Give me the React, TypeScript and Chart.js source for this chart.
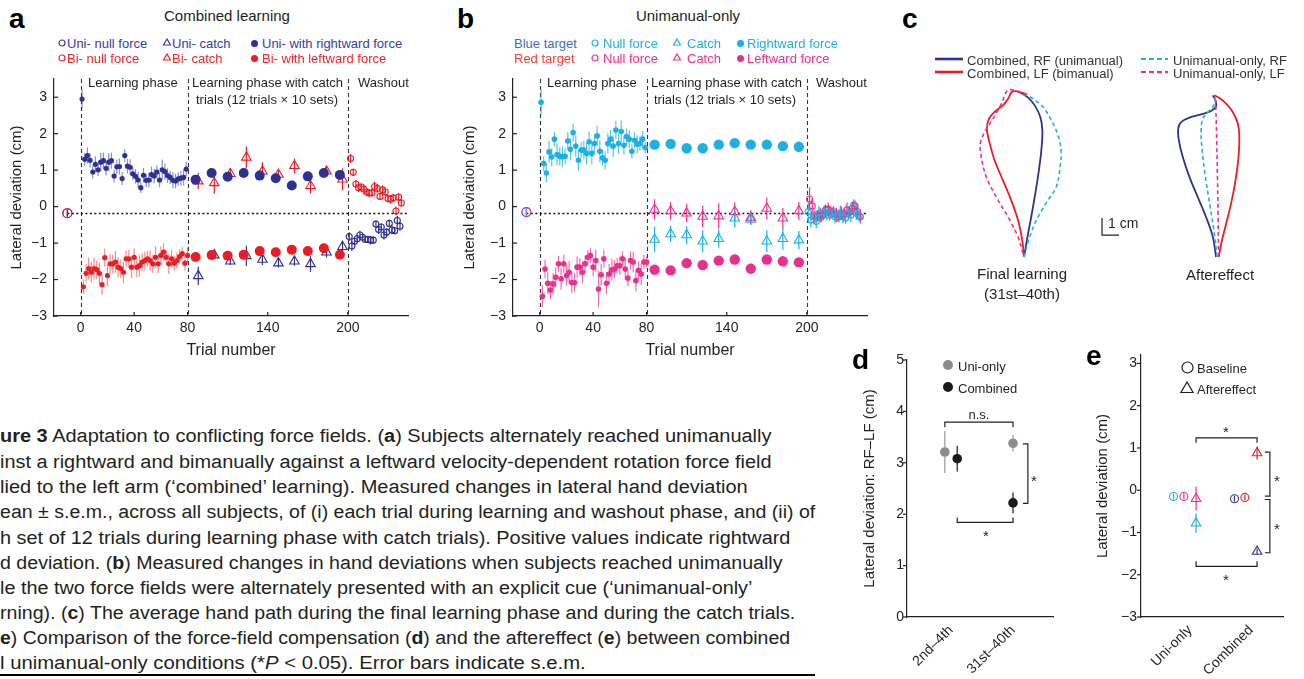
import React, { useEffect, useLayoutEffect, useRef, useState } from "react";
import { Chart, registerables } from "chart.js";
Chart.register(...registerables);

const FONT = '"Liberation Sans", Arial, Helvetica, sans-serif';
const INK = "#231f20";
const BLUE = "#2e3192";
const RED = "#ed1c24";
const CYAN = "#1cb0e4";
const MAGENTA = "#ec2f8d";
const GRAY = "#8c8c8c";
const BLACK = "#1a1a1a";
const BLUE_ERR = "rgba(60,64,170,0.6)";
const RED_ERR = "rgba(240,60,60,0.6)";
const CYAN_ERR = "rgba(30,176,228,0.75)";
const MAG_ERR = "rgba(236,47,141,0.7)";

Chart.defaults.font.family = FONT;
Chart.defaults.color = INK;

// ---------------- data: trial positions ----------------
const TRIALS_ODD = [1, 3, 5, 7, 9, 11, 13, 15, 17, 19, 21, 23, 25, 27, 29, 31, 33, 35, 37, 39, 41, 43, 45, 47, 49, 51, 53, 55, 57, 59, 61, 63, 65, 67, 69, 71, 73, 75, 77, 79];
const TRIALS_EVEN = [2, 4, 6, 8, 10, 12, 14, 16, 18, 20, 22, 24, 26, 28, 30, 32, 34, 36, 38, 40, 42, 44, 46, 48, 50, 52, 54, 56, 58, 60, 62, 64, 66, 68, 70, 72, 74, 76, 78, 80];
const CATCH_X = [86, 98, 110, 122, 134, 146, 158, 170, 182, 194];
const CATCH_X_SHIFT = [88, 100, 112, 124, 136, 148, 160, 172, 184, 196];
const WASH_ODD = [201, 203, 205, 207, 209, 211, 213, 215, 217, 219, 221, 223, 225, 227, 229, 231, 233, 235, 237, 239];
const WASH_EVEN = [202, 204, 206, 208, 210, 212, 214, 216, 218, 220, 222, 224, 226, 228, 230, 232, 234, 236, 238, 240];
const BASE_X = [-10];
const TRIAL_TICKS = [0, 40, 80, 140, 200];
const DEV_TICKS = [-3, -2, -1, 0, 1, 2, 3];
const PHASES = [0, 80, 200];

// ---------------- panel a: combined learning ----------------
const A_BASE_UNI = [-0.18];
const A_BASE_BI = [-0.18];
const A_BASE_ERR = [0.1];
const A_REF = -0.18;
const A_UNI_LEARN = [2.95, 1.3, 1.4, 1.27, 0.95, 1.16, 1.01, 1.22, 1.26, 1.05, 1.22, 1.26, 0.84, 1.09, 1.1, 0.77, 1.4, 1.11, 1.08, 0.9, 0.83, 0.73, 0.52, 0.86, 0.72, 0.73, 0.88, 0.84, 0.95, 0.73, 1.01, 0.96, 0.85, 0.8, 0.72, 0.7, 0.76, 0.78, 0.8, 1.03];
const A_UNI_LEARN_ERR = [0.25, 0.18, 0.22, 0.2, 0.18, 0.22, 0.18, 0.25, 0.22, 0.2, 0.25, 0.22, 0.18, 0.2, 0.22, 0.18, 0.18, 0.2, 0.22, 0.18, 0.2, 0.22, 0.15, 0.2, 0.18, 0.2, 0.22, 0.2, 0.18, 0.2, 0.28, 0.22, 0.2, 0.18, 0.22, 0.2, 0.18, 0.2, 0.22, 0.2];
const A_BI_LEARN = [-2.2, -1.83, -1.7, -1.8, -1.7, -1.73, -1.83, -2.14, -1.4, -1.89, -1.57, -1.57, -1.52, -1.66, -1.7, -1.8, -1.43, -1.43, -1.66, -1.39, -1.66, -1.62, -1.52, -1.48, -1.43, -1.48, -1.57, -1.39, -1.57, -1.34, -1.25, -1.39, -1.57, -1.43, -1.55, -1.48, -1.37, -1.29, -1.55, -1.34];
const A_BI_LEARN_ERR = [0.2, 0.25, 0.3, 0.28, 0.3, 0.25, 0.3, 0.28, 0.25, 0.3, 0.28, 0.25, 0.3, 0.28, 0.25, 0.3, 0.22, 0.25, 0.3, 0.25, 0.28, 0.3, 0.25, 0.25, 0.22, 0.28, 0.25, 0.3, 0.25, 0.25, 0.25, 0.22, 0.28, 0.25, 0.2, 0.22, 0.2, 0.18, 0.2, 0.22];
const A_UNI_FORCE = [0.74, 0.92, 0.82, 0.92, 0.85, 0.78, 0.58, 0.83, 0.92, 0.87];
const A_UNI_FORCE_ERR = [0.07, 0.06, 0.07, 0.06, 0.07, 0.06, 0.08, 0.06, 0.07, 0.08];
const A_BI_FORCE = [-1.38, -1.33, -1.35, -1.32, -1.22, -1.25, -1.18, -1.22, -1.14, -1.32];
const A_BI_FORCE_ERR = [0.07, 0.06, 0.07, 0.06, 0.07, 0.06, 0.07, 0.06, 0.07, 0.1];
const A_BI_CATCH = [0.7, 0.65, 0.9, 1.35, 0.97, 0.88, 1.12, 0.57, 0.97, 0.75];
const A_BI_CATCH_ERR = [0.22, 0.3, 0.15, 0.3, 0.25, 0.12, 0.2, 0.22, 0.12, 0.3];
const A_UNI_CATCH = [-1.9, -1.33, -1.5, -1.35, -1.45, -1.55, -1.5, -1.57, -1.25, -1.1];
const A_UNI_CATCH_ERR = [0.25, 0.08, 0.1, 0.28, 0.15, 0.12, 0.12, 0.22, 0.15, 0.12];
const A_BI_WASH = [1.32, 0.94, 0.62, 0.52, 0.54, 0.48, 0.4, 0.37, 0.38, 0.55, 0.5, 0.28, 0.46, 0.4, 0.22, 0.2, 0.24, -0.12, 0.26, 0.1];
const A_BI_WASH_ERR = [0.12, 0.1, 0.1, 0.12, 0.1, 0.12, 0.1, 0.1, 0.1, 0.14, 0.12, 0.1, 0.12, 0.1, 0.1, 0.12, 0.1, 0.12, 0.1, 0.1];
const A_UNI_WASH = [-0.82, -1.08, -0.95, -0.88, -0.78, -0.84, -0.9, -0.9, -0.92, -0.92, -0.48, -0.63, -0.56, -0.78, -0.7, -0.46, -0.64, -0.66, -0.38, -0.54];
const A_UNI_WASH_ERR = [0.12, 0.14, 0.1, 0.1, 0.12, 0.1, 0.1, 0.1, 0.12, 0.1, 0.1, 0.12, 0.1, 0.12, 0.1, 0.1, 0.12, 0.1, 0.12, 0.12];

// ---------------- panel b: unimanual-only ----------------
const B_BASE_RF = [-0.15];
const B_BASE_LF = [-0.15];
const B_BASE_ERR = [0.1];
const B_REF = -0.17;
const B_RF_LEARN = [2.86, 1.18, 0.92, 1.5, 1.36, 1.85, 1.43, 1.38, 1.37, 1.38, 1.8, 1.57, 2.03, 1.66, 1.27, 1.55, 1.55, 1.46, 1.78, 1.46, 1.73, 1.94, 1.52, 1.34, 1.27, 1.73, 1.85, 1.66, 2.1, 1.73, 2.06, 1.68, 1.92, 1.85, 1.52, 1.82, 1.71, 1.73, 1.85, 1.62];
const B_RF_LEARN_ERR = [0.35, 0.2, 0.25, 0.3, 0.25, 0.2, 0.3, 0.25, 0.28, 0.22, 0.25, 0.3, 0.25, 0.3, 0.28, 0.22, 0.25, 0.3, 0.28, 0.3, 0.25, 0.28, 0.3, 0.22, 0.25, 0.28, 0.25, 0.3, 0.25, 0.28, 0.3, 0.25, 0.22, 0.25, 0.2, 0.22, 0.25, 0.2, 0.22, 0.15];
const B_LF_LEARN = [-2.46, -1.71, -2.1, -2.29, -2.12, -1.94, -1.57, -1.98, -1.57, -1.89, -1.8, -2.08, -2.08, -1.66, -1.66, -1.8, -1.57, -1.39, -1.34, -1.66, -1.48, -2.26, -1.87, -1.43, -2.1, -1.85, -1.73, -1.71, -1.62, -1.62, -1.43, -1.71, -1.96, -1.48, -1.52, -2.03, -1.75, -1.85, -1.52, -1.52];
const B_LF_LEARN_ERR = [0.3, 0.25, 0.3, 0.25, 0.3, 0.28, 0.22, 0.3, 0.25, 0.28, 0.3, 0.28, 0.25, 0.3, 0.25, 0.3, 0.22, 0.2, 0.2, 0.25, 0.3, 0.5, 0.3, 0.25, 0.3, 0.28, 0.3, 0.25, 0.22, 0.25, 0.2, 0.3, 0.22, 0.25, 0.28, 0.3, 0.25, 0.3, 0.2, 0.15];
const B_RF_FORCE = [1.7, 1.72, 1.6, 1.6, 1.7, 1.74, 1.7, 1.7, 1.66, 1.64];
const B_RF_FORCE_ERR = [0.1, 0.08, 0.1, 0.1, 0.1, 0.1, 0.1, 0.1, 0.1, 0.1];
const B_LF_FORCE = [-1.73, -1.75, -1.55, -1.6, -1.48, -1.45, -1.7, -1.45, -1.5, -1.53];
const B_LF_FORCE_ERR = [0.12, 0.12, 0.1, 0.12, 0.1, 0.1, 0.14, 0.12, 0.1, 0.12];
const B_LF_CATCH = [-0.08, -0.12, -0.18, -0.27, -0.26, -0.14, -0.3, -0.05, -0.32, -0.12];
const B_LF_CATCH_ERR = [0.28, 0.25, 0.25, 0.3, 0.35, 0.25, 0.2, 0.3, 0.28, 0.25];
const B_RF_CATCH = [-0.9, -0.75, -0.78, -0.95, -0.88, -0.32, -0.35, -0.95, -0.88, -0.92];
const B_RF_CATCH_ERR = [0.35, 0.22, 0.25, 0.3, 0.25, 0.25, 0.15, 0.3, 0.3, 0.25];
const B_LF_WASH = [0.21, 0.02, -0.28, -0.26, -0.23, -0.23, -0.09, -0.07, -0.18, -0.14, -0.23, -0.28, -0.18, -0.2, -0.09, -0.14, -0.05, 0.02, -0.14, -0.28];
const B_LF_WASH_ERR = [0.32, 0.2, 0.18, 0.15, 0.2, 0.15, 0.15, 0.18, 0.15, 0.15, 0.2, 0.15, 0.18, 0.15, 0.2, 0.15, 0.18, 0.15, 0.15, 0.18];
const B_RF_WASH = [-0.14, -0.37, -0.28, -0.41, -0.18, -0.28, -0.14, -0.23, -0.18, -0.17, -0.28, -0.26, -0.17, -0.28, -0.32, -0.18, -0.23, 0.05, -0.18, -0.26];
const B_RF_WASH_ERR = [0.25, 0.2, 0.15, 0.18, 0.2, 0.15, 0.18, 0.15, 0.2, 0.15, 0.18, 0.15, 0.2, 0.18, 0.15, 0.18, 0.2, 0.15, 0.18, 0.15];

// ---------------- panel c: hand paths (cm) ----------------
const C_FINAL_RF_X = [0, 0.24, 0.53, 0.82, 1.02, 1.08, 0.96, 0.63, 0.24, -0.16, -0.35];
const C_FINAL_RF_Y = [0, 1.37, 2.94, 4.71, 6.27, 7.45, 8.24, 8.92, 9.37, 9.65, 9.71];
const C_FINAL_LF_X = [0, -0.1, -0.35, -0.75, -1.24, -1.73, -2.06, -2.18, -2.06, -1.73, -1.24, -0.94, -0.71, -0.49, -0.06, 0.18];
const C_FINAL_LF_Y = [0, 0.98, 2.16, 3.33, 4.51, 5.69, 6.86, 7.55, 8.14, 8.53, 8.92, 9.31, 9.71, 9.76, 9.65, 9.55];
const C_FINAL_URF_X = [0, 0.33, 0.82, 1.41, 1.9, 2.1, 2.18, 2.0, 1.61, 1.12, 0.53, 0.04, -0.25];
const C_FINAL_URF_Y = [0, 1.18, 2.35, 3.33, 4.12, 5.1, 6.27, 7.16, 8.04, 8.82, 9.31, 9.55, 9.61];
const C_FINAL_ULF_X = [-0.06, -0.35, -0.94, -1.63, -2.22, -2.51, -2.57, -2.31, -1.82, -1.33, -1.04, -0.88, -0.55, -0.06, 0.33];
const C_FINAL_ULF_Y = [0.2, 1.18, 2.35, 3.53, 4.71, 5.88, 6.67, 7.35, 8.14, 9.02, 9.71, 9.84, 9.8, 9.65, 9.45];
const C_AFTER_RF_X = [-0.1, -0.29, -0.69, -1.18, -1.67, -2.06, -2.29, -2.33, -2.16, -1.67, -0.98, -0.39, -0.1, -0.14, -0.29];
const C_AFTER_RF_Y = [0, 1.18, 2.35, 3.53, 4.71, 5.88, 6.86, 7.55, 7.94, 8.2, 8.39, 8.59, 8.86, 9.22, 9.51];
const C_AFTER_LF_X = [0.06, 0.2, 0.49, 0.78, 1.04, 1.22, 1.27, 1.18, 0.88, 0.49, 0.1, -0.2];
const C_AFTER_LF_Y = [0, 0.78, 1.96, 3.14, 4.51, 5.88, 7.06, 7.84, 8.53, 9.02, 9.35, 9.51];
const C_AFTER_URF_X = [-0.04, -0.2, -0.45, -0.73, -0.92, -0.98, -0.88, -0.59, -0.29, -0.14, -0.25];
const C_AFTER_URF_Y = [0, 1.37, 2.94, 4.71, 6.27, 7.45, 8.14, 8.53, 8.82, 9.22, 9.47];
const C_AFTER_ULF_X = [0.04, 0.02, -0.02, -0.06, -0.1, -0.14, -0.2];
const C_AFTER_ULF_Y = [0, 2.35, 4.71, 6.67, 8.24, 9.22, 9.47];
const C_SCALE_ORIGIN = [4.59, 1.29];
const C_SCALE_CM = 1;

// ---------------- panel d ----------------
const D_CATS = ["2nd\u20134th", "31st\u201340th"];
const D_UNI = [3.21, 3.38];
const D_UNI_ERR = [0.41, 0.16];
const D_COMB = [3.08, 2.22];
const D_COMB_ERR = [0.25, 0.2];
const D_TICKS = [0, 1, 2, 3, 4, 5];

// ---------------- panel e ----------------
const E_CATS = ["Uni-only", "Combined"];
const E_BASE_RF = [-0.15, -0.2];
const E_BASE_LF = [-0.15, -0.17];
const E_BASE_ERR = [0.07, 0.07];
const E_AFTER_RF = [-0.78, -1.45];
const E_AFTER_RF_ERR = [0.23, 0.07];
const E_AFTER_LF = [-0.2, 0.88];
const E_AFTER_LF_ERR = [0.28, 0.15];

// ---------------- layout constants ----------------
const D_OFF_UNI = [-0.1, 0];
const D_OFF_COMB = [0.1, 0];
const E_OFF_BASE_RF = -0.27;
const E_OFF_BASE_LF = -0.1;
const E_OFF_AFTER = 0.1;
const C_AFTER_OFFSET = 11.4;
const PX_PER_CM = 17;

// ---------------- helpers ----------------
const fmt = (v: number) => (v < 0 ? "\u2212" + Math.abs(v) : String(v));
const xy = (xs: number[], ys: number[]) => xs.map((x, i) => ({ x, y: ys[i] }));

function dotDS(xs: number[], ys: number[], errs: number[], color: any, r: number, errColor?: any) {
  return {
    data: xy(xs, ys), errors: errs, errorColor: errColor || color,
    pointStyle: "circle", pointRadius: r, pointBackgroundColor: color, pointBorderColor: color, pointBorderWidth: 0,
    showLine: false,
  };
}
function openDS(xs: number[], ys: number[], errs: number[], color: any, r: number, style: string, errColor?: any) {
  return {
    data: xy(xs, ys), errors: errs, errorColor: errColor || color,
    pointStyle: style, pointRadius: r, pointBackgroundColor: "rgba(255,255,255,0)", pointBorderColor: color, pointBorderWidth: 1.1,
    showLine: false,
  };
}

const errorBars = {
  id: "errorBars",
  beforeDatasetsDraw(chart: any) {
    const ctx = chart.ctx;
    const ys = chart.scales.y;
    chart.data.datasets.forEach((ds: any, di: number) => {
      if (!ds.errors) return;
      const meta = chart.getDatasetMeta(di);
      ctx.save();
      ctx.lineWidth = ds.errorWidth || 1.2;
      meta.data.forEach((el: any, i: number) => {
        const e = ds.errors[i];
        if (!e) return;
        const v = ds.data[i].y;
        ctx.strokeStyle = Array.isArray(ds.errorColor) ? ds.errorColor[i] : ds.errorColor;
        ctx.beginPath();
        ctx.moveTo(el.x, ys.getPixelForValue(v - e));
        ctx.lineTo(el.x, ys.getPixelForValue(v + e));
        ctx.stroke();
      });
      ctx.restore();
    });
  },
};

// len > 0: ticks point into the plot; len < 0: ticks point outward
function axisTicks(axes: string[], len: number) {
  return {
    id: "axisTicks",
    afterDatasetsDraw(chart: any) {
      const { ctx, chartArea } = chart;
      ctx.save();
      ctx.strokeStyle = INK;
      ctx.lineWidth = 1.2;
      axes.forEach((id) => {
        const sc = chart.scales[id];
        sc.ticks.forEach((t: any) => {
          const p = sc.getPixelForValue(t.value);
          ctx.beginPath();
          if (id === "y") {
            ctx.moveTo(chartArea.left, p);
            ctx.lineTo(chartArea.left + len, p);
          } else {
            ctx.moveTo(p, chartArea.bottom);
            ctx.lineTo(p, chartArea.bottom - len);
          }
          ctx.stroke();
        });
      });
      ctx.restore();
    },
  };
}

function guides(vlines: number[], hline: number, hFrom: number) {
  return {
    id: "guides",
    beforeDatasetsDraw(chart: any) {
      const { ctx, chartArea, scales } = chart;
      ctx.save();
      ctx.strokeStyle = "#333";
      ctx.lineWidth = 1.1;
      ctx.setLineDash([4, 3]);
      vlines.forEach((v) => {
        const px = Math.round(scales.x.getPixelForValue(v)) + 0.5;
        ctx.beginPath();
        ctx.moveTo(px, chartArea.top);
        ctx.lineTo(px, chartArea.bottom);
        ctx.stroke();
      });
      const py = Math.round(scales.y.getPixelForValue(hline)) + 0.5;
      ctx.strokeStyle = "#111";
      ctx.lineWidth = 1.3;
      ctx.setLineDash([2, 2.5]);
      ctx.beginPath();
      ctx.moveTo(scales.x.getPixelForValue(hFrom), py);
      ctx.lineTo(chartArea.right, py);
      ctx.stroke();
      ctx.restore();
    },
  };
}

type Br = { kind: "h" | "v"; a: number; b: number; at: number; dir: "up" | "down" | "left" };
function brackets(items: Br[]) {
  return {
    id: "brackets",
    afterDatasetsDraw(chart: any) {
      const { ctx, scales } = chart;
      const L = 5;
      ctx.save();
      ctx.strokeStyle = INK;
      ctx.lineWidth = 1.2;
      items.forEach((b) => {
        ctx.beginPath();
        if (b.kind === "h") {
          const x1 = scales.x.getPixelForValue(b.a);
          const x2 = scales.x.getPixelForValue(b.b);
          const y = scales.y.getPixelForValue(b.at);
          const d = b.dir === "down" ? L : -L;
          ctx.moveTo(x1, y + d);
          ctx.lineTo(x1, y);
          ctx.lineTo(x2, y);
          ctx.lineTo(x2, y + d);
        } else {
          const x = scales.x.getPixelForValue(b.at);
          const y1 = scales.y.getPixelForValue(b.a);
          const y2 = scales.y.getPixelForValue(b.b);
          ctx.moveTo(x - L, y1);
          ctx.lineTo(x, y1);
          ctx.lineTo(x, y2);
          ctx.lineTo(x - L, y2);
        }
        ctx.stroke();
      });
      ctx.restore();
    },
  };
}

function yScale(min: number, max: number, ticks: number[], width: number, title: string, titlePad: number, tickPad: number) {
  return {
    type: "linear", position: "left", min, max,
    afterBuildTicks: (s: any) => { s.ticks = ticks.map((v) => ({ value: v })); },
    afterFit: (s: any) => { s.width = width; },
    grid: { display: false, drawTicks: false },
    border: { display: true, color: INK, width: 1.2 },
    ticks: { font: { size: 14, family: FONT }, color: INK, padding: tickPad, autoSkip: false, callback: (v: any) => fmt(Number(v)) },
    title: { display: true, text: title, font: { size: 15, family: FONT }, color: INK, padding: { top: titlePad, bottom: 0 } },
  };
}

function trialScale() {
  return {
    type: "linear", position: "bottom", min: -20, max: 245,
    afterBuildTicks: (s: any) => { s.ticks = TRIAL_TICKS.map((v) => ({ value: v })); },
    afterFit: (s: any) => { s.height = 46; },
    grid: { display: false, drawTicks: false },
    border: { display: true, color: INK, width: 1.2 },
    ticks: { font: { size: 14, family: FONT }, color: INK, padding: 4, autoSkip: false, maxRotation: 0, minRotation: 0, callback: (v: any) => fmt(Number(v)) },
    title: { display: true, text: "Trial number", font: { size: 16, family: FONT }, color: INK, padding: { top: 0, bottom: 2 } },
  };
}

function catScale(min: number, max: number, cats: string[]) {
  return {
    type: "linear", position: "bottom", min, max,
    afterBuildTicks: (s: any) => { s.ticks = cats.map((_, i) => ({ value: i + 1 })); },
    afterFit: (s: any) => { s.height = 62; },
    grid: { display: false, drawTicks: false },
    border: { display: true, color: INK, width: 1.2 },
    ticks: { font: { size: 14, family: FONT }, color: INK, padding: 5, autoSkip: false, maxRotation: 45, minRotation: 45, callback: (v: any) => cats[Math.round(Number(v)) - 1] },
  };
}

function baseConfig(datasets: any[], scales: any, plugins: any[], padding: any) {
  return {
    type: "scatter",
    data: { datasets },
    options: {
      animation: false, responsive: false, maintainAspectRatio: false, devicePixelRatio: 1, events: [],
      layout: { padding },
      plugins: { legend: { display: false }, tooltip: { enabled: false } },
      scales,
    },
    plugins,
  };
}

function makeA() {
  const ds = [
    openDS(BASE_X, A_BASE_BI, A_BASE_ERR, RED, 4.5, "circle"),
    openDS(BASE_X, A_BASE_UNI, A_BASE_ERR, BLUE, 4.5, "circle"),
    dotDS(TRIALS_ODD, A_UNI_LEARN, A_UNI_LEARN_ERR, BLUE, 2.6, BLUE_ERR),
    dotDS(TRIALS_EVEN, A_BI_LEARN, A_BI_LEARN_ERR, RED, 2.6, RED_ERR),
    dotDS(CATCH_X, A_UNI_FORCE, A_UNI_FORCE_ERR, BLUE, 5),
    dotDS(CATCH_X, A_BI_FORCE, A_BI_FORCE_ERR, RED, 5),
    openDS(CATCH_X_SHIFT, A_BI_CATCH, A_BI_CATCH_ERR, RED, 5.5, "triangle"),
    openDS(CATCH_X_SHIFT, A_UNI_CATCH, A_UNI_CATCH_ERR, BLUE, 5.5, "triangle"),
    openDS(WASH_EVEN, A_BI_WASH, A_BI_WASH_ERR, RED, 3, "circle"),
    openDS(WASH_ODD, A_UNI_WASH, A_UNI_WASH_ERR, BLUE, 3, "circle"),
  ];
  return baseConfig(
    ds,
    { x: trialScale(), y: yScale(-3, 3.5, DEV_TICKS, 54, "Lateral deviation (cm)", 8, 7) },
    [guides(PHASES, A_REF, BASE_X[0]), errorBars, axisTicks(["x", "y"], 4)],
    { left: 0, top: 19, right: 12, bottom: 0 }
  );
}

function makeB() {
  const ds = [
    openDS(BASE_X, B_BASE_LF, B_BASE_ERR, MAGENTA, 4.5, "circle"),
    openDS(BASE_X, B_BASE_RF, B_BASE_ERR, CYAN, 4.5, "circle"),
    dotDS(TRIALS_ODD, B_RF_LEARN, B_RF_LEARN_ERR, CYAN, 2.8, CYAN_ERR),
    dotDS(TRIALS_EVEN, B_LF_LEARN, B_LF_LEARN_ERR, MAGENTA, 2.8, MAG_ERR),
    dotDS(CATCH_X, B_RF_FORCE, B_RF_FORCE_ERR, CYAN, 5.2),
    dotDS(CATCH_X, B_LF_FORCE, B_LF_FORCE_ERR, MAGENTA, 5.2),
    openDS(CATCH_X, B_LF_CATCH, B_LF_CATCH_ERR, MAGENTA, 5.5, "triangle"),
    openDS(CATCH_X, B_RF_CATCH, B_RF_CATCH_ERR, CYAN, 5.5, "triangle"),
    openDS(WASH_ODD, B_RF_WASH, B_RF_WASH_ERR, CYAN, 3, "circle"),
    openDS(WASH_EVEN, B_LF_WASH, B_LF_WASH_ERR, MAGENTA, 3, "circle"),
  ];
  return baseConfig(
    ds,
    { x: trialScale(), y: yScale(-3, 3.5, DEV_TICKS, 73, "Lateral deviation (cm)", 21, 7) },
    [guides(PHASES, B_REF, BASE_X[0]), errorBars, axisTicks(["x", "y"], 4)],
    { left: 0, top: 19, right: 13, bottom: 0 }
  );
}

function pathDS(xs: number[], ys: number[], color: string, dashed: boolean, dx = 0) {
  return {
    data: xs.map((x, i) => ({ x: x + dx, y: ys[i] })),
    showLine: true, pointRadius: 0, borderColor: color, borderWidth: dashed ? 1.6 : 1.8,
    borderDash: dashed ? [4, 3] : [], tension: 0.35, fill: false,
  };
}

function makeC() {
  const W = 400, H = 190;
  const xmin = -(1024 - 900) / PX_PER_CM;
  const ymin = -(270 - 257) / PX_PER_CM;
  const [sx, sy] = C_SCALE_ORIGIN;
  const ds = [
    pathDS(C_FINAL_ULF_X, C_FINAL_ULF_Y, MAGENTA, true),
    pathDS(C_FINAL_URF_X, C_FINAL_URF_Y, CYAN, true),
    pathDS(C_FINAL_LF_X, C_FINAL_LF_Y, RED, false),
    pathDS(C_FINAL_RF_X, C_FINAL_RF_Y, BLUE, false),
    pathDS(C_AFTER_URF_X, C_AFTER_URF_Y, CYAN, true, C_AFTER_OFFSET),
    pathDS(C_AFTER_ULF_X, C_AFTER_ULF_Y, MAGENTA, true, C_AFTER_OFFSET),
    pathDS(C_AFTER_LF_X, C_AFTER_LF_Y, RED, false, C_AFTER_OFFSET),
    pathDS(C_AFTER_RF_X, C_AFTER_RF_Y, BLUE, false, C_AFTER_OFFSET),
    {
      data: [{ x: sx, y: sy + C_SCALE_CM }, { x: sx, y: sy }, { x: sx + C_SCALE_CM, y: sy }],
      showLine: true, pointRadius: 0, borderColor: INK, borderWidth: 1.2, tension: 0,
    },
  ];
  return baseConfig(
    ds,
    {
      x: { type: "linear", display: false, min: xmin, max: xmin + W / PX_PER_CM },
      y: { type: "linear", display: false, min: ymin, max: ymin + H / PX_PER_CM },
    },
    [],
    0
  );
}

function makeD() {
  const ds = [
    dotDS(D_UNI.map((_, i) => i + 1 + D_OFF_UNI[i]), D_UNI, D_UNI_ERR, GRAY, 4.8, "#9a9a9a"),
    dotDS(D_COMB.map((_, i) => i + 1 + D_OFF_COMB[i]), D_COMB, D_COMB_ERR, BLACK, 4.8),
  ];
  return baseConfig(
    ds,
    {
      x: catScale(0.29, 2.645, D_CATS),
      y: yScale(0, 5, D_TICKS, 67, "Lateral deviation: RF\u2013LF (cm)", 21, 3),
    },
    [
      errorBars,
      axisTicks(["y"], -4),
      brackets([
        { kind: "h", a: 0.9, b: 2.0, at: 3.79, dir: "down" },
        { kind: "v", a: 3.37, b: 2.21, at: 2.24, dir: "left" },
        { kind: "h", a: 1.1, b: 2.0, at: 1.84, dir: "up" },
      ]),
    ],
    { left: 0, top: 20, right: 17, bottom: 0 }
  );
}

function makeE() {
  const cx = (off: number) => E_CATS.map((_, i) => i + 1 + off);
  const ds = [
    openDS(cx(E_OFF_BASE_RF), E_BASE_RF, E_BASE_ERR, [CYAN, BLUE], 4, "circle"),
    openDS(cx(E_OFF_BASE_LF), E_BASE_LF, E_BASE_ERR, [MAGENTA, RED], 4, "circle"),
    openDS(cx(E_OFF_AFTER), E_AFTER_LF, E_AFTER_LF_ERR, [MAGENTA, RED], 5.5, "triangle"),
    openDS(cx(E_OFF_AFTER), E_AFTER_RF, E_AFTER_RF_ERR, [CYAN, BLUE], 5.5, "triangle"),
  ];
  return baseConfig(
    ds,
    {
      x: catScale(0.197, 2.525, E_CATS),
      y: yScale(-3, 3.2, DEV_TICKS, 61, "Lateral deviation (cm)", 14, 4),
    },
    [
      errorBars,
      axisTicks(["y"], -4),
      brackets([
        { kind: "h", a: 1.1, b: 2.1, at: 1.24, dir: "down" },
        { kind: "v", a: 0.9, b: -0.14, at: 2.31, dir: "left" },
        { kind: "v", a: -0.22, b: -1.48, at: 2.31, dir: "left" },
        { kind: "h", a: 1.1, b: 2.1, at: -1.8, dir: "up" },
      ]),
    ],
    { left: 0, top: 15, right: 21, bottom: 0 }
  );
}

// ---------------- components ----------------
function ChartCanvas({ x, y, w, h, make }: any) {
  const ref = useRef<HTMLCanvasElement>(null);
  useEffect(() => {
    const chart = new Chart(ref.current as any, make());
    return () => chart.destroy();
  }, []);
  return <canvas ref={ref} width={w} height={h} style={{ position: "absolute", left: x, top: y, width: w, height: h }} />;
}

function T({ x, cy, size = 13, color = INK, anchor = "start", bold = false, children }: any) {
  const tx = anchor === "middle" ? "translateX(-50%)" : anchor === "end" ? "translateX(-100%)" : undefined;
  return (
    <div style={{ position: "absolute", left: x, top: cy - size / 2, fontSize: size, lineHeight: `${size}px`, whiteSpace: "nowrap", color, fontWeight: bold ? "bold" : "normal", transform: tx }}>
      {children}
    </div>
  );
}

function Letter({ x, baseline, ch }: any) {
  const fs = 28;
  return <div style={{ position: "absolute", left: x, top: baseline - 0.8465 * fs, fontSize: fs, lineHeight: `${fs}px`, fontWeight: "bold", color: "#000" }}>{ch}</div>;
}

function Star({ x, cy }: any) {
  const fs = 15;
  return <div style={{ position: "absolute", left: x, top: cy - 0.28 * fs, fontSize: fs, lineHeight: `${fs}px`, transform: "translateX(-50%)", color: INK }}>*</div>;
}

function Mk({ x, cy, kind, color, r = 3.5, sw = 1.2 }: any) {
  const s = Math.ceil(r * 2 + 4);
  const c = s / 2;
  return (
    <svg width={s} height={s} style={{ position: "absolute", left: x - c, top: cy - c, overflow: "visible" }}>
      {kind === "open" && <circle cx={c} cy={c} r={r} fill="none" stroke={color} strokeWidth={sw} />}
      {kind === "dot" && <circle cx={c} cy={c} r={r} fill={color} />}
      {kind === "tri" && (
        <polygon points={`${c},${c - r} ${c - r * 0.87},${c + r * 0.5} ${c + r * 0.87},${c + r * 0.5}`} fill="none" stroke={color} strokeWidth={sw} />
      )}
    </svg>
  );
}

function LegLine({ x1, x2, y, color, dashed }: any) {
  return (
    <svg width={x2 - x1} height={6} style={{ position: "absolute", left: x1, top: y - 3 }}>
      <line x1={0} y1={3} x2={x2 - x1} y2={3} stroke={color} strokeWidth={dashed ? 1.8 : 2.6} strokeDasharray={dashed ? "5 3" : undefined} />
    </svg>
  );
}

function CaptionLine({ cy, right, children }: any) {
  const ref = useRef<HTMLDivElement>(null);
  const [sx, setSx] = useState(1);
  useLayoutEffect(() => {
    const w = ref.current ? ref.current.scrollWidth : 0;
    if (w > 0) setSx(right / w);
  }, [right]);
  return (
    <div ref={ref} style={{ position: "absolute", left: 0, top: cy - 10, fontSize: 18, lineHeight: "20px", whiteSpace: "nowrap", color: INK, transform: `scaleX(${sx})`, transformOrigin: "0 0" }}>
      {children}
    </div>
  );
}

export default function App() {
  const ABLUE = "#3a3d9c";
  const ARED = "#e8262b";
  return (
    <div style={{ position: "fixed", left: 0, top: 0, width: 1304, height: 679, overflow: "hidden", background: "#fff", fontFamily: FONT, color: INK }}>
      <ChartCanvas x={0} y={60} w={420} h={302} make={makeA} />
      <ChartCanvas x={440} y={60} w={440} h={302} make={makeB} />
      <ChartCanvas x={900} y={80} w={400} h={190} make={makeC} />
      <ChartCanvas x={840} y={340} w={230} h={339} make={makeD} />
      <ChartCanvas x={1080} y={340} w={224} h={339} make={makeE} />

      {/* panel letters */}
      <Letter x={9} baseline={29} ch="a" />
      <Letter x={457} baseline={29} ch="b" />
      <Letter x={902} baseline={29} ch="c" />
      <Letter x={852} baseline={370} ch="d" />
      <Letter x={1086} baseline={366} ch="e" />

      {/* panel a header */}
      <T x={227} cy={15} size={15} anchor="middle">Combined learning</T>
      <Mk x={61.5} cy={43} kind="open" color={ABLUE} r={3} />
      <T x={67} cy={43} color={ABLUE}>Uni- null force</T>
      <Mk x={167} cy={43} kind="tri" color={ABLUE} r={4} />
      <T x={172} cy={43} color={ABLUE}>Uni- catch</T>
      <Mk x={254} cy={43} kind="dot" color={BLUE} r={3.5} />
      <T x={262} cy={43} color={ABLUE}>Uni- with rightward force</T>
      <Mk x={61.5} cy={58} kind="open" color={ARED} r={3} />
      <T x={67} cy={58} color={ARED}>Bi- null force</T>
      <Mk x={167} cy={58} kind="tri" color={ARED} r={4} />
      <T x={172} cy={58} color={ARED}>Bi- catch</T>
      <Mk x={254} cy={58} kind="dot" color={RED} r={3.5} />
      <T x={262} cy={58} color={ARED}>Bi- with leftward force</T>
      <T x={88} cy={82}>Learning phase</T>
      <T x={192} cy={82}>Learning phase with catch</T>
      <T x={196} cy={99}>trials (12 trials × 10 sets)</T>
      <T x={358} cy={82}>Washout</T>

      {/* panel b header */}
      <T x={688} cy={15} size={15} anchor="middle">Unimanual-only</T>
      <T x={514} cy={43} color="#3d6fb6">Blue target</T>
      <T x={514} cy={58} color="#ef4136">Red target</T>
      <Mk x={595} cy={43} kind="open" color={CYAN} r={3} />
      <T x={603} cy={43} color={CYAN}>Null force</T>
      <Mk x={677} cy={43} kind="tri" color={CYAN} r={4} />
      <T x={687} cy={43} color={CYAN}>Catch</T>
      <Mk x={740} cy={43} kind="dot" color={CYAN} r={3.5} />
      <T x={747} cy={43} color={CYAN}>Rightward force</T>
      <Mk x={595} cy={58} kind="open" color={MAGENTA} r={3} />
      <T x={603} cy={58} color={MAGENTA}>Null force</T>
      <Mk x={677} cy={58} kind="tri" color={MAGENTA} r={4} />
      <T x={687} cy={58} color={MAGENTA}>Catch</T>
      <Mk x={740} cy={58} kind="dot" color={MAGENTA} r={3.5} />
      <T x={747} cy={58} color={MAGENTA}>Leftward force</T>
      <T x={547} cy={82}>Learning phase</T>
      <T x={651} cy={82}>Learning phase with catch</T>
      <T x={654} cy={99}>trials (12 trials × 10 sets)</T>
      <T x={816} cy={82}>Washout</T>

      {/* panel c */}
      <LegLine x1={935} x2={963} y={59} color={BLUE} />
      <T x={967} cy={60} color="#333">Combined, RF (unimanual)</T>
      <LegLine x1={935} x2={963} y={72} color={RED} />
      <T x={967} cy={73} color="#333">Combined, LF (bimanual)</T>
      <LegLine x1={1141} x2={1168} y={59} color={CYAN} dashed />
      <T x={1173} cy={60} color="#333">Unimanual-only, RF</T>
      <LegLine x1={1141} x2={1168} y={72} color={MAGENTA} dashed />
      <T x={1173} cy={73} color="#333">Unimanual-only, LF</T>
      <T x={1108} cy={223} size={14}>1 cm</T>
      <T x={1022} cy={273} size={15} anchor="middle">Final learning</T>
      <T x={1022} cy={293} size={15} anchor="middle">(31st–40th)</T>
      <T x={1220} cy={274} size={15} anchor="middle">Aftereffect</T>

      {/* panel d */}
      <Mk x={948} cy={365} kind="dot" color={GRAY} r={5} />
      <T x={958} cy={366}>Uni-only</T>
      <Mk x={948} cy={387} kind="dot" color={BLACK} r={5} />
      <T x={958} cy={388}>Combined</T>
      <T x={979} cy={414} size={13} anchor="middle">n.s.</T>
      <Star x={1034} cy={477} />
      <Star x={986} cy={532} />

      {/* panel e */}
      <Mk x={1187} cy={367} kind="open" color={INK} r={5.5} />
      <T x={1197} cy={368}>Baseline</T>
      <Mk x={1187} cy={389} kind="tri" color={INK} r={7} />
      <T x={1197} cy={389}>Aftereffect</T>
      <Star x={1226} cy={428} />
      <Star x={1277} cy={477} />
      <Star x={1277} cy={525} />
      <Star x={1226} cy={576} />

      {/* caption */}
      <CaptionLine cy={436} right={771}><b>ure 3</b>{"  Adaptation to conflicting force fields. ("}<b>a</b>{") Subjects alternately reached unimanually"}</CaptionLine>
      <CaptionLine cy={462} right={771}>inst a rightward and bimanually against a leftward velocity-dependent rotation force field</CaptionLine>
      <CaptionLine cy={487} right={748}>lied to the left arm (‘combined’ learning). Measured changes in lateral hand deviation</CaptionLine>
      <CaptionLine cy={512} right={815}>ean ± s.e.m., across all subjects, of (i) each trial during learning and washout phase, and (ii) of</CaptionLine>
      <CaptionLine cy={538} right={790}>h set of 12 trials during learning phase with catch trials). Positive values indicate rightward</CaptionLine>
      <CaptionLine cy={563} right={782}>{"d deviation. ("}<b>b</b>{") Measured changes in hand deviations when subjects reached unimanually"}</CaptionLine>
      <CaptionLine cy={588} right={752}>le the two force fields were alternately presented with an explicit cue (‘unimanual-only’</CaptionLine>
      <CaptionLine cy={613} right={795}>{"rning). ("}<b>c</b>{") The average hand path during the final learning phase and during the catch trials."}</CaptionLine>
      <CaptionLine cy={638} right={790}><b>e</b>{") Comparison of the force-field compensation ("}<b>d</b>{") and the aftereffect ("}<b>e</b>{") between combined"}</CaptionLine>
      <CaptionLine cy={663} right={586}>{"l unimanual-only conditions (*"}<i>P</i>{" < 0.05). Error bars indicate s.e.m."}</CaptionLine>
      <div style={{ position: "absolute", left: 0, top: 674, width: 815, height: 1.5, background: "#000" }} />
    </div>
  );
}
